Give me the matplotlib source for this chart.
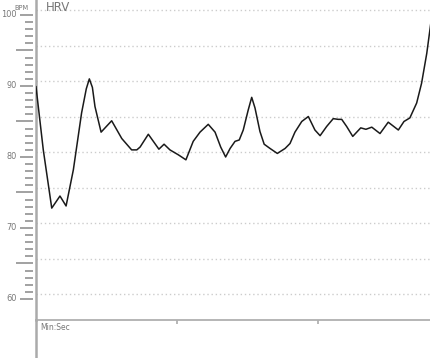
import numpy as np
import matplotlib
matplotlib.use("Agg")
import matplotlib.pyplot as plt

# HRV trace, time in seconds, heart rate in BPM
time_s = [0.0, 3.1, 6.7, 10.2, 12.8, 15.9, 19.4, 21.4, 22.7, 24.0, 25.1, 27.7,
          32.2, 36.5, 38.6, 40.7, 42.9, 44.3, 47.8, 52.3, 54.5, 57.0, 60.6,
          63.8, 66.9, 69.8, 73.3, 76.2, 78.6, 80.7, 82.6, 84.7, 86.5, 88.2,
          90.3, 91.8, 93.2, 95.3, 97.1, 99.6, 102.7, 106.0, 108.1, 110.2,
          113.1, 115.9, 118.7, 120.9, 123.7, 126.5, 128.6, 130.1, 132.2,
          134.8, 138.2, 140.4, 142.9, 146.4, 149.9, 154.2, 156.6, 159.1,
          162.0, 164.1, 166.3, 168.0]
bpm = [89.9, 81.0, 72.8, 74.5, 73.1, 78.2, 86.2, 89.6, 91.0, 89.8, 87.1, 83.5,
       85.1, 82.6, 81.8, 81.0, 81.0, 81.4, 83.2, 81.1, 81.8, 81.0, 80.3,
       79.6, 82.2, 83.5, 84.6, 83.5, 81.4, 80.0, 81.2, 82.2, 82.4, 83.8,
       86.6, 88.4, 86.9, 83.6, 81.8, 81.2, 80.5, 81.2, 81.9, 83.5,
       85.0, 85.7, 83.8, 83.0, 84.3, 85.4, 85.3, 85.3, 84.3,
       82.9, 84.1, 83.9, 84.2, 83.3, 84.9, 83.8, 85.0, 85.5,
       87.6, 90.4, 94.6, 98.8]

y_labels = [60, 70, 80, 90, 100]
x_ticks = [60, 120]

W, H = 431, 358
fig = plt.figure(figsize=(W / 100, H / 100), dpi=100)
ax = fig.add_axes([36 / W, 38 / H, 395 / W, 320 / H])

ax.set_xlim(0, 168.1)
ax.set_ylim(57.04, 102.11)

# dotted grid (sits slightly above the tick marks in the original)
for v in np.arange(60, 101, 5):
    ax.axhline(v + 0.65, color="#cccccc", lw=1.0, ls=(0, (1, 2)), zorder=1)

ax.plot(time_s, bpm, color="#1a1a1a", lw=1.1, zorder=3,
        solid_joinstyle="round")

for s in ["top", "right"]:
    ax.spines[s].set_visible(False)
ax.spines["left"].set_color("#aaaaaa")
ax.spines["left"].set_linewidth(1.8)
ax.spines["bottom"].set_color("#b0b0b0")
ax.spines["bottom"].set_linewidth(1.3)

ax.set_yticks([])
ax.set_xticks(x_ticks)
ax.set_xticklabels([])
ax.tick_params(axis="x", length=3, width=1.2, color="#aaaaaa", direction="out")

# hand drawn y ticks left of the axis
tr = ax.get_yaxis_transform()
for v in range(60, 101):
    if v % 5 == 0:
        x0 = -16 / 395 if v % 10 == 0 else -19.5 / 395
    else:
        x0 = -11 / 395
    ax.plot([x0, -2.5 / 395], [v, v], transform=tr, color="#888888",
            lw=1.1, clip_on=False, solid_capstyle="butt")
for v in y_labels:
    ax.text(-19 / 395, v, str(v), transform=tr, ha="right", va="center",
            fontsize=5.9, color="#777777")

# left axis continues below the x axis
fig.add_artist(plt.Line2D([36 / W, 36 / W], [0, 38 / H], color="#aaaaaa",
                          lw=1.8, transform=fig.transFigure))

fig.text(21 / W, 1 - 7.5 / H, "BPM", fontsize=4.8, color="#777777",
         ha="center", va="center")
fig.text(46 / W, 1 - 7.5 / H, "HRV", fontsize=8.5, color="#777777",
         ha="left", va="center")
fig.text(40 / W, 1 - 328 / H, "Min:Sec", fontsize=5.5, color="#777777",
         ha="left", va="center")

fig.savefig("out.png", dpi=100)
